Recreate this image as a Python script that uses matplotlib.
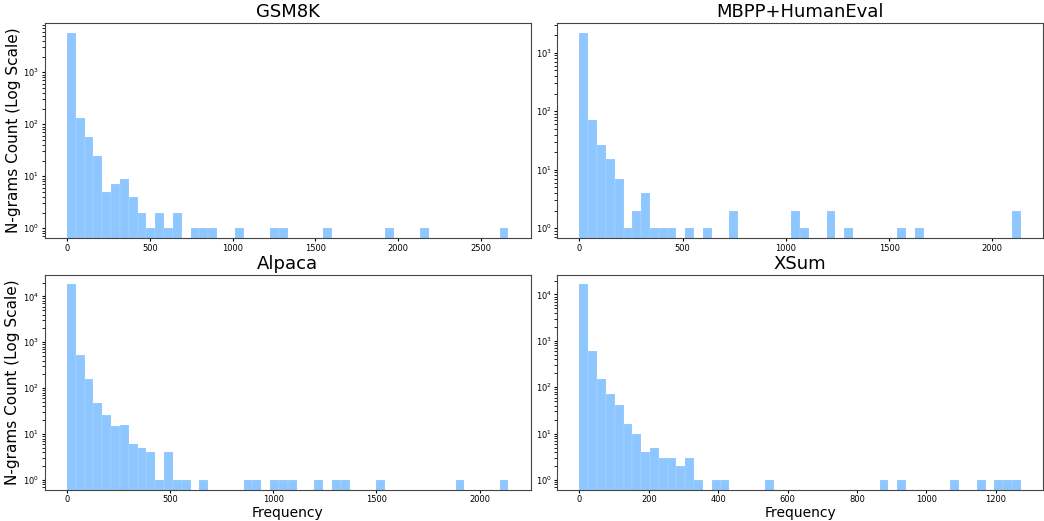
import numpy as np
import matplotlib
matplotlib.use("Agg")
import matplotlib.pyplot as plt

# bin counts per dataset (50 equal-width bins from 0 to the max frequency)
gsm8k_max = 2665
gsm8k_counts = [5750, 130, 56, 24, 5, 7, 9, 4, 2, 1,
                2, 1, 2, 0, 1, 1, 1, 0, 0, 1,
                0, 0, 0, 1, 1, 0, 0, 0, 0, 1,
                0, 0, 0, 0, 0, 0, 1, 0, 0, 0,
                1, 0, 0, 0, 0, 0, 0, 0, 0, 1]

code_max = 2138
code_counts = [2200, 71, 26, 15, 7, 1, 2, 4, 1, 1,
               1, 0, 1, 0, 1, 0, 0, 2, 0, 0,
               0, 0, 0, 0, 2, 1, 0, 0, 2, 0,
               1, 0, 0, 0, 0, 0, 1, 0, 1, 0,
               0, 0, 0, 0, 0, 0, 0, 0, 0, 2]

alpaca_max = 2140
alpaca_counts = [18200, 530, 155, 48, 26, 15, 16, 6, 5, 4,
                 1, 4, 1, 1, 0, 1, 0, 0, 0, 0,
                 1, 1, 0, 1, 1, 1, 0, 0, 1, 0,
                 1, 1, 0, 0, 0, 1, 0, 0, 0, 0,
                 0, 0, 0, 0, 1, 0, 0, 0, 0, 1]

xsum_max = 1272
xsum_counts = [16500, 590, 148, 71, 41, 16, 10, 4, 5, 3,
               3, 2, 3, 1, 0, 1, 1, 0, 0, 0,
               0, 1, 0, 0, 0, 0, 0, 0, 0, 0,
               0, 0, 0, 0, 1, 0, 1, 0, 0, 0,
               0, 0, 1, 0, 0, 1, 0, 1, 1, 1]

titles = ["GSM8K", "MBPP+HumanEval", "Alpaca", "XSum"]
maxes = [gsm8k_max, code_max, alpaca_max, xsum_max]
counts = [gsm8k_counts, code_counts, alpaca_counts, xsum_counts]

fig, axes = plt.subplots(2, 2, figsize=(10.44, 5.21), dpi=100)
fig.subplots_adjust(left=0.043, right=0.999, top=0.956, bottom=0.06,
                    wspace=0.055, hspace=0.17)

for i, ax in enumerate(axes.flat):
    edges = np.linspace(0, maxes[i], len(counts[i]) + 1)
    ax.hist(edges[:-1], bins=edges, weights=counts[i],
            color='#1E90FF', alpha=0.5, edgecolor='white', linewidth=0.15)
    ax.set_yscale('log')
    ax.set_title(titles[i], fontsize=13, pad=4)
    ax.tick_params(labelsize=6, length=2.5, pad=1.5)
    for s in ax.spines.values():
        s.set_color('#444444')
    if i % 2 == 0:
        ax.set_ylabel("N-grams Count (Log Scale)", fontsize=11, labelpad=2)
    if i >= 2:
        ax.set_xlabel("Frequency", fontsize=10, labelpad=1)

fig.savefig("out.png", dpi=100)
